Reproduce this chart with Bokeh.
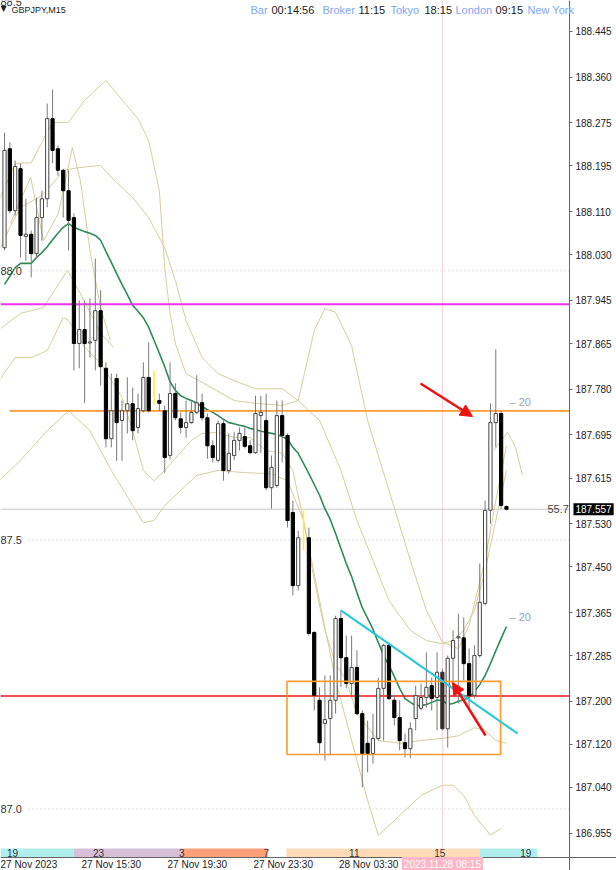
from bokeh.plotting import figure
from bokeh.models import Range1d, FixedTicker, Label, Arrow, NormalHead, ColumnDataSource
from bokeh.embed import file_html
from bokeh.resources import INLINE
from bokeh.core.properties import value

# ---------------- data (GBPJPY M15) ----------------
opens = [188.043,188.227,188.112,188.190,188.064,188.068,188.032,188.099,188.134,188.283,
         188.227,188.187,188.149,188.099,187.865,187.891,187.866,187.871,187.926,187.819,
         187.688,187.800,187.722,187.740,187.753,187.709,187.740,187.802,187.754,187.759,
         187.740,187.657,187.772,187.725,187.709,187.718,187.737,187.755,187.727,187.675,
         187.648,187.716,187.629,187.657,187.685,187.692,187.675,187.662,187.731,187.722,
         187.597,187.601,187.731,187.694,187.551,187.415,187.484,187.504,187.328,187.202,
         187.159,187.168,187.202,187.354,187.281,187.233,187.263,187.177,187.122,187.103,
         187.131,187.224,187.304,187.202,187.170,187.123,187.112,187.168,187.187,187.207,
         187.229,187.207,187.254,187.149,187.280,187.318,187.318,187.270,187.211,187.285,
         187.382,187.555,187.718,187.735,187.562]
highs = [188.257,188.239,188.205,188.200,188.134,188.075,188.136,188.149,188.311,188.337,
         188.233,188.190,188.187,188.107,187.945,187.945,187.949,188.023,187.964,187.830,
         187.809,187.809,187.759,187.802,187.783,187.772,187.830,187.867,187.815,187.772,
         187.750,187.830,187.791,187.737,187.759,187.759,187.806,187.772,187.735,187.685,
         187.722,187.722,187.698,187.700,187.709,187.709,187.685,187.768,187.768,187.772,
         187.657,187.759,187.759,187.698,187.573,187.517,187.555,187.523,187.330,187.226,
         187.248,187.248,187.359,187.369,187.322,187.322,187.295,187.183,187.164,187.177,
         187.244,187.307,187.309,187.211,187.202,187.140,187.161,187.229,187.233,187.291,
         187.244,187.291,187.261,187.285,187.332,187.363,187.356,187.298,187.304,187.456,
         187.573,187.754,187.854,187.740,187.564]
lows = [188.038,188.107,188.103,188.025,188.019,187.988,188.023,188.056,188.118,188.200,
        188.177,188.099,188.038,187.815,187.819,187.754,187.839,187.815,187.787,187.672,
        187.672,187.647,187.647,187.698,187.685,187.698,187.737,187.737,187.752,187.740,
        187.625,187.650,187.722,187.698,187.690,187.716,187.734,187.722,187.651,187.644,
        187.644,187.610,187.623,187.648,187.666,187.670,187.660,187.660,187.662,187.592,
        187.558,187.597,187.644,187.523,187.397,187.406,187.480,187.322,187.183,187.103,
        187.090,187.099,187.177,187.226,187.224,187.207,187.174,187.040,187.068,187.084,
        187.127,187.127,187.202,187.155,187.109,187.096,187.094,187.146,187.183,187.188,
        187.183,187.146,187.146,187.114,187.233,187.196,187.239,187.188,187.205,187.281,
        187.378,187.530,187.672,187.558,187.555]
closes = [188.224,188.112,188.194,188.066,188.068,188.032,188.099,188.134,188.283,188.224,
          188.187,188.149,188.094,187.865,187.891,187.865,187.868,187.926,187.822,187.688,
          187.740,187.718,187.740,187.753,187.703,187.744,187.802,187.740,187.756,187.754,
          187.653,187.772,187.727,187.709,187.718,187.737,187.755,187.727,187.675,187.653,
          187.716,187.629,187.661,187.685,187.698,187.674,187.662,187.735,187.737,187.597,
          187.635,187.731,187.694,187.536,187.415,187.504,187.488,187.326,187.211,187.123,
          187.166,187.202,187.354,187.281,187.233,187.263,187.177,187.103,187.103,187.131,
          187.224,187.304,187.205,187.170,187.127,187.112,187.149,187.211,187.207,187.226,
          187.205,187.254,187.149,187.280,187.313,187.320,187.270,187.211,187.285,187.384,
          187.555,187.718,187.735,187.564,187.557]
ma_line = [187.975,187.990,188.006,188.014,188.014,188.014,188.025,188.034,188.045,188.058,
           188.070,188.081,188.088,188.081,188.077,188.073,188.070,188.066,188.057,188.036,
           188.016,187.995,187.975,187.956,187.936,187.925,187.913,187.895,187.871,187.847,
           187.822,187.794,187.778,187.768,187.763,187.759,187.754,187.748,187.742,187.737,
           187.731,187.724,187.718,187.716,187.713,187.711,187.707,187.705,187.702,187.700,
           187.698,187.696,187.692,187.687,187.672,187.661,187.642,187.623,187.603,187.583,
           187.558,187.538,187.512,187.484,187.456,187.432,187.402,187.374,187.354,187.334,
           187.309,187.285,187.267,187.246,187.224,187.205,187.198,187.192,187.192,187.194,
           187.198,187.202,187.202,187.194,187.196,187.200,187.203,187.207,187.218,187.231,
           187.248,187.270,187.294,187.317,187.339]

# envelope / band lines (bar position, price)
band_u3_x = [-1, 2, 5, 9, 12, 15, 19, 21, 25, 27, 29, 30, 31, 32, 34, 37, 43, 47, 52, 55, 58, 60, 62, 65, 68, 72, 76, 79, 82, 85, 87, 90, 92, 94]
band_u3 = [188.131,188.200,188.201,188.276,188.276,188.317,188.354,188.330,188.283,188.242,188.149,188.006,187.921,187.865,
           187.809,187.793,187.759,187.754,187.750,187.759,187.889,187.930,187.923,187.861,187.722,187.592,187.462,187.369,
           187.310,187.298,187.341,187.462,187.573,187.675]
band_u2_x = [-1, 1, 3, 7, 10, 11, 14, 18, 20, 24, 27, 30, 32, 34, 37, 40, 43, 47, 52, 55, 59, 63, 66, 69, 72, 76, 79, 82, 84, 86, 88, 90, 92, 94]
band_u2 = [188.038,188.081,188.118,188.140,188.174,188.187,188.192,188.196,188.174,188.136,188.099,188.043,187.982,187.908,
           187.839,187.809,187.796,187.781,187.781,187.759,187.722,187.629,187.536,187.462,187.387,187.332,187.313,187.307,
           187.313,187.332,187.369,187.443,187.536,187.629]
band_l2_x = [-1, 2, 5, 8, 11, 12, 15, 18, 22, 24, 26, 28, 30, 35, 37, 40, 43, 46, 49, 52, 54, 56, 58, 60, 62, 64, 66, 70, 74, 78, 82, 85, 88, 90, 92, 94]
band_l2 = [187.796,187.839,187.839,187.852,187.913,187.908,187.858,187.828,187.765,187.703,187.629,187.610,187.629,187.685,
           187.698,187.700,187.690,187.690,187.666,187.661,187.629,187.536,187.425,187.332,187.270,187.239,187.177,187.127,
           187.122,187.127,187.131,187.136,187.151,187.146,187.127,187.122]
band_l3_x = [-1, 3, 8, 12, 16, 20, 24, 26, 28, 30, 33, 36, 40, 45, 50, 53, 56, 59, 62, 65, 68, 70, 72, 75, 78, 82, 84, 86, 88, 91, 93]
band_l3 = [187.610,187.648,187.703,187.740,187.703,187.629,187.564,187.532,187.536,187.564,187.592,187.620,187.629,187.625,
           187.623,187.610,187.536,187.387,187.239,187.127,187.016,186.951,186.969,186.997,187.025,187.044,187.044,187.025,
           186.988,186.951,186.964]
fast_up_x = [1.1, 4.9, 7.3, 10.1, 12.7, 14.2, 16.1, 18.0, 19.8]
fast_up = [188.088,188.174,188.056,188.107,188.229,188.168,188.032,187.932,187.871]
fast_lo_x = [-0.75, 3.0, 7.3, 11.8, 14.2, 18.0, 20.4]
fast_lo = [187.893,187.921,187.932,188.001,187.958,187.884,187.858]
shift_x = [91.6, 94.2, 95.7, 97.0]
shift_y = [187.666, 187.700, 187.672, 187.620]

highlight_bars = [28, 56]          # thin yellow bars
cursor_bar = 82                    # 2023.11.28 08:15
last_price = 187.557
level_magenta = 187.938
level_orange = 187.740
level_red = 187.210
box_bars = [52.9, 92.9]
box_prices = [187.101, 187.237]
trend_bars = [63.0, 96.1]
trend_prices = [187.369, 187.140]

right_ticks = [188.445,188.360,188.275,188.195,188.110,188.030,187.945,187.865,187.780,187.695,
               187.615,187.530,187.450,187.365,187.285,187.200,187.120,187.040,186.955]
date_labels = ["27 Nov 2023", "27 Nov 15:30", "27 Nov 19:30", "27 Nov 23:30", "28 Nov 03:30"]
date_label_bars = [3.9, 20.0, 36.1, 52.2, 68.2]
session_edges = [-0.75, 12.9, 33.1, 49.3, 52.8, 88.9, 99.8]
session_colors = ["#b0eeee", "#d8bfd8", "#ffa07a", None, "#ffdab9", "#b0eeee"]
hour_labels = ["19", "23", "3", "7", "11", "15", "19"]
hour_label_bars = [1.5, 17.6, 33.2, 49.0, 65.5, 81.5, 97.6]
left_levels = [188.0, 187.5, 187.0]
left_level_texts = ["88.0", "87.5", "87.0"]     # as shown at the left edge

# ---------------- figure ----------------
W, H = 616, 870          # canvas = frame; axes drawn at fixed locations inside it
AX_X, AX_Y = 569, 857    # pixel position of the price axis and the time axis
PX_PER_BAR, PX_PER_YEN = 5.34, 538.0
X0 = -0.75
X1 = X0 + W / PX_PER_BAR
Y1 = 188.5026
Y0 = Y1 - H / PX_PER_YEN

def px2bar(px):
    return X0 + px / PX_PER_BAR

def py2price(py):
    return Y1 - py / PX_PER_YEN

XA = px2bar(AX_X)
YA = py2price(AX_Y)

p = figure(frame_width=W, frame_height=H, x_range=Range1d(X0, X1), y_range=Range1d(Y0, Y1),
           output_backend="svg", toolbar_location=None, y_axis_location="right",
           min_border=0)
p.grid.visible = False
p.outline_line_color = None
p.background_fill_color = "white"
p.border_fill_color = "white"

FONT = "Liberation Sans"
yax = p.yaxis[0]
yax.fixed_location = XA
yax.ticker = FixedTicker(ticks=right_ticks)
yax.major_label_overrides = {t: f"{t:.3f}" for t in right_ticks}
yax.axis_line_color = "#666666"
yax.major_tick_line_color = "#666666"
yax.major_tick_in = 0
yax.major_tick_out = 3
yax.minor_tick_line_color = None
yax.major_label_text_font = FONT
yax.major_label_text_font_size = "10px"
yax.major_label_text_color = "#222222"
yax.major_label_standoff = 3

xax = p.xaxis[0]
xax.fixed_location = YA
xax.ticker = FixedTicker(ticks=date_label_bars)
xax.major_label_overrides = {t: s for t, s in zip(date_label_bars, date_labels)}
xax.axis_line_color = "#666666"
xax.major_tick_line_color = None
xax.major_tick_in = 0
xax.major_tick_out = 0
xax.minor_tick_line_color = None
xax.major_label_text_font = FONT
xax.major_label_text_font_size = "10px"
xax.major_label_text_color = "#222222"
xax.major_label_standoff = 1

# background lines
p.segment(x0=cursor_bar, y0=YA, x1=cursor_bar, y1=Y1, line_color="#f7d3da", line_width=1)
for lv in left_levels:
    p.segment(x0=px2bar(28), y0=lv, x1=XA, y1=lv, line_color="#c8c8c8", line_dash="1 3", line_width=1)
p.segment(x0=X0, y0=last_price, x1=XA, y1=last_price, line_color="#c8c8c8", line_width=1)

# session strip
for i, c in enumerate(session_colors):
    if c:
        p.quad(left=session_edges[i], right=session_edges[i + 1], bottom=YA, top=YA + 9 / PX_PER_YEN,
               fill_color=c, line_color=None)
p.text(x=hour_label_bars, y=[YA + 5 / PX_PER_YEN] * len(hour_labels), text=hour_labels,
       text_font=value(FONT), text_font_size="10px", text_color="#333333",
       text_align="center", text_baseline="middle")

# bands
TAN = "#d6cd9c"
for bx, by in [(band_u3_x, band_u3), (band_u2_x, band_u2), (band_l2_x, band_l2), (band_l3_x, band_l3),
               (fast_up_x, fast_up), (fast_lo_x, fast_lo), (shift_x, shift_y)]:
    p.line(bx, by, line_color=TAN, line_width=1)

# moving average
p.line(list(range(len(ma_line))), ma_line, line_color="#2e8b57", line_width=1.6)

# horizontal levels
p.segment(x0=X0, y0=level_magenta, x1=XA, y1=level_magenta, line_color="#ee33ee", line_width=2)
p.segment(x0=px2bar(9), y0=level_orange, x1=XA, y1=level_orange, line_color="#ff9a2e", line_width=1.8)
p.segment(x0=X0, y0=level_red, x1=XA, y1=level_red, line_color="#ee1515", line_width=1.5)

# candles
n = len(opens)
idx = [i for i in range(n) if i not in highlight_bars]
bull = [i for i in idx if closes[i] >= opens[i]]
bear = [i for i in idx if closes[i] < opens[i]]
p.segment(x0=idx, y0=[lows[i] for i in idx], x1=idx, y1=[highs[i] for i in idx],
          line_color="#7a7a7a", line_width=1)
p.segment(x0=highlight_bars, y0=[lows[i] for i in highlight_bars], x1=highlight_bars,
          y1=[highs[i] for i in highlight_bars], line_color="#ffee33", line_width=1.5)
src_bull = ColumnDataSource(dict(x=bull, top=[closes[i] for i in bull], bottom=[opens[i] for i in bull]))
p.vbar(x="x", top="top", bottom="bottom", width=0.6, source=src_bull,
       fill_color="white", line_color="#444444", line_width=1)
bear_colors = ["#3a2e30" if i == cursor_bar else "black" for i in bear]
src_bear = ColumnDataSource(dict(x=bear, top=[opens[i] for i in bear], bottom=[closes[i] for i in bear], c=bear_colors))
p.vbar(x="x", top="top", bottom="bottom", width=0.6, source=src_bear,
       fill_color="c", line_color="c", line_width=1)

# box and trendline
p.quad(left=box_bars[0], right=box_bars[1], bottom=box_prices[0], top=box_prices[1],
       fill_color=None, line_color="#ff9a2e", line_width=1.6)
p.line(trend_bars, trend_prices, line_color="#25c8d8", line_width=2)

# arrows
RED = "#ee1111"
p.add_layout(Arrow(x_start=px2bar(420), y_start=py2price(383), x_end=px2bar(472), y_end=py2price(416),
                   line_color=RED, line_width=2.5,
                   end=NormalHead(size=12, fill_color=RED, line_color=RED)))
p.add_layout(Arrow(x_start=px2bar(485), y_start=py2price(735), x_end=px2bar(452), y_end=py2price(682),
                   line_color=RED, line_width=2.5,
                   end=NormalHead(size=12, fill_color=RED, line_color=RED)))

# texts
def lab(px, py, text, color="#222222", size="11px", font=FONT, **kw):
    p.add_layout(Label(x=px2bar(px), y=py2price(py), text=text, text_color=color,
                       text_font_size=size, text_font=font, text_baseline="middle", **kw))

for lv, txt in zip(left_levels, left_level_texts):
    p.add_layout(Label(x=px2bar(0), y=lv, text=txt, text_color="#333333",
                       text_font_size="11px", text_font=FONT, text_baseline="middle"))
lab(0, 1, "88.5", color="#333333", size="11px")

lab(0, 8, "\u25bc", size="8px", font="DejaVu Sans")
lab(11, 9, "GBPJPY,M15", size="9px")
BLUE = "#7ea7f2"
for px, txt, col in [(250, "Bar", BLUE), (271, "00:14:56", "#222222"), (322, "Broker", BLUE),
                     (358, "11:15", "#222222"), (390, "Tokyo", BLUE), (424, "18:15", "#222222"),
                     (455, "London", BLUE), (495, "09:15", "#222222"), (527, "New York", BLUE)]:
    lab(px, 9, txt, color=col, size="11px")

lab(509, 401, "\u2012 20", color="#9aa2b4", size="11px")
lab(509, 616, "\u2012 20", color="#9aa2b4", size="11px")
lab(547, 508, "55.7", color="#444444", size="11px")

# price tag on the axis, time tag on the time scale
tag = Label(x=px2bar(573), y=last_price, text=f"{last_price:.3f}", text_color="white",
            text_font_size="10px", text_font=FONT, text_baseline="middle",
            background_fill_color="black")
ttag = Label(x=cursor_bar, y=py2price(864), text="2023.11.28 08:15", text_color="white",
             text_font_size="10px", text_font=FONT, text_baseline="middle", text_align="center",
             background_fill_color="#ffb6c6")
for lbl in (tag, ttag):
    try:
        lbl.padding = 2
    except Exception:
        pass
    p.add_layout(lbl)

open("out.html", "w").write(file_html(p, INLINE))
